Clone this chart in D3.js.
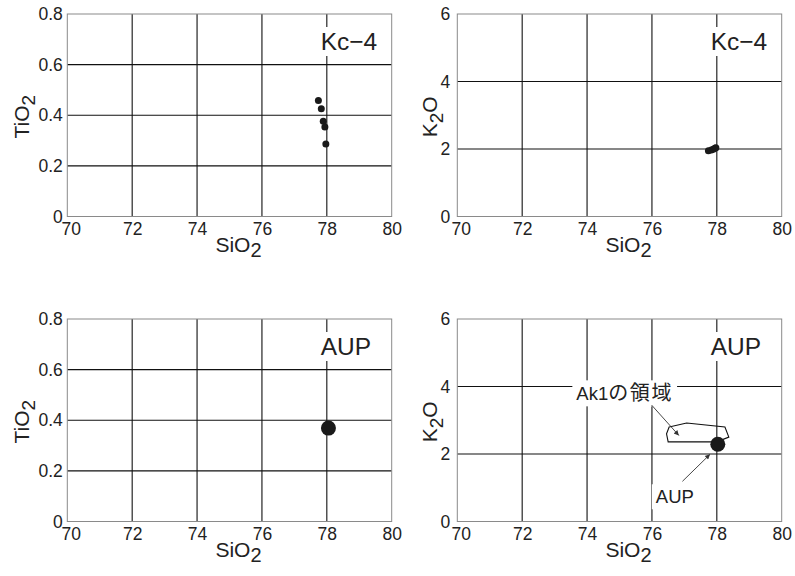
<!DOCTYPE html>
<html><head><meta charset="utf-8">
<script src="https://cdn.jsdelivr.net/npm/d3@7"></script>
<style>body{margin:0;background:#fff}text{font-family:"Liberation Sans",Arial,"Noto Sans CJK JP",sans-serif;fill:#222}</style>
</head><body><svg id="c" width="795" height="576"></svg>
<script>
// ---- data ----
const sio2Ticks = [70, 72, 74, 76, 78, 80];
const tio2Ticks = [0, 0.2, 0.4, 0.6, 0.8];
const k2oTicks = [0, 2, 4, 6];

const kc4SiO2 = [77.74, 77.83, 77.89, 77.94, 77.97];
const kc4TiO2 = [0.458, 0.426, 0.376, 0.354, 0.286];
const kc4K2O  = [1.95, 1.97, 1.99, 2.02, 2.04];

const aupSiO2_Ti = [78.05];
const aupTiO2    = [0.369];
const aupSiO2_K  = [78.03];
const aupK2O     = [2.29];

const ak1SiO2 = [76.53, 77.07, 78.25, 78.37, 78.00, 76.50, 76.45];
const ak1K2O  = [2.80, 2.92, 2.80, 2.50, 2.36, 2.36, 2.60];

const panelLabels = ["Kc\u22124", "Kc\u22124", "AUP", "AUP"];
const ak1Note = {latin: "Ak1", cjk: "の領域", tx: 73.67, ty: 3.59, x1: 75.99, y1: 3.45, x2: 76.83, y2: 2.55};
const aupNote = {latin: "AUP", cjk: "", tx: 76.12, ty: 0.54, x1: 76.94, y1: 1.19, x2: 77.79, y2: 1.99};

// ---- layout ----
const svg = d3.select("#c");
const PW = 324.4, PH = 202.5;
const lefts = [67.3, 457.3], tops = [14, 319];

svg.append("defs").append("marker")
  .attr("id", "ah").attr("viewBox", "0 0 10 10").attr("refX", 10).attr("refY", 5)
  .attr("markerWidth", 7).attr("markerHeight", 5).attr("markerUnits", "userSpaceOnUse")
  .attr("orient", "auto")
  .append("path").attr("d", "M0,0L10,5L0,10Z").attr("fill", "#333");

const panels = [
  {col:0,row:0,kind:"Ti",si:kc4SiO2,v:kc4TiO2,r:3.5},
  {col:1,row:0,kind:"K", si:kc4SiO2,v:kc4K2O,r:3.5},
  {col:0,row:1,kind:"Ti",si:aupSiO2_Ti,v:aupTiO2,r:7.5},
  {col:1,row:1,kind:"K", si:aupSiO2_K,v:aupK2O,r:7.5}
];

function textWithBg(g, xp, yp, size, latin, cjk, padX, padY) {
  const bgG = g.append("g");
  const t = g.append("text").attr("x", xp).attr("y", yp).attr("font-size", size);
  t.append("tspan").text(latin);
  if (cjk) t.append("tspan").attr("font-size", size + 1.5).attr("letter-spacing", 1.6).text(cjk);
  const b = t.node().getBBox();
  bgG.append("rect").attr("x", b.x - padX).attr("y", b.y - padY)
    .attr("width", b.width + 2 * padX).attr("height", b.height + 2 * padY).attr("fill", "#fff");
  return t;
}

panels.forEach((p, i) => {
  const L = lefts[p.col], T = tops[p.row];
  const g = svg.append("g").attr("transform", `translate(${L},${T})`);
  const x = d3.scaleLinear().domain([70, 80]).range([0, PW]);
  const yT = p.kind === "Ti" ? tio2Ticks : k2oTicks;
  const y = d3.scaleLinear().domain([yT[0], yT[yT.length-1]]).range([PH, 0]);

  // grid (interior)
  g.append("g").selectAll("line").data(sio2Ticks.slice(1, -1)).join("line")
    .attr("x1", d => x(d)).attr("x2", d => x(d)).attr("y1", 0).attr("y2", PH)
    .attr("stroke", "#111").attr("stroke-width", 1.1);
  g.append("g").selectAll("line").data(yT.slice(1, -1)).join("line")
    .attr("x1", 0).attr("x2", PW).attr("y1", d => y(d)).attr("y2", d => y(d))
    .attr("stroke", "#111").attr("stroke-width", 1.1);
  // frame
  g.append("rect").attr("x", 0).attr("y", 0).attr("width", PW).attr("height", PH)
    .attr("fill", "none").attr("stroke", "#8a8a8a").attr("stroke-width", 1);

  // axes labels
  const xa = g.append("g").attr("transform", `translate(0,${PH})`)
    .call(d3.axisBottom(x).tickValues(sio2Ticks).tickSize(0).tickPadding(6.5).tickFormat(d3.format("d")));
  xa.select(".domain").remove();
  xa.attr("font-family", null).attr("font-size", null);
  xa.selectAll("text").attr("font-size", 17.5).attr("fill", "#222");
  xa.selectAll("text").filter((d, j) => j === 0).attr("dx", 3.5);

  const fmt = p.kind === "Ti" ? (d => d === 0 ? "0" : d3.format(".1f")(d)) : d3.format("d");
  const ya = g.append("g")
    .call(d3.axisLeft(y).tickValues(yT).tickSize(0).tickPadding(p.col === 0 ? 4.5 : 7).tickFormat(fmt));
  ya.select(".domain").remove();
  ya.attr("font-family", null).attr("font-size", null);
  ya.selectAll("text").attr("font-size", 17.5).attr("fill", "#222");

  // x title
  const xt = g.append("text").attr("x", PW / 2 + 9).attr("y", PH + 35)
    .attr("text-anchor", "middle").attr("font-size", 21);
  xt.append("tspan").text("SiO");
  xt.append("tspan").attr("dy", 5).attr("font-size", 20).text("2");

  // y title
  const yx = p.col === 0 ? -38.3 : -20.8;
  const yt = g.append("text").attr("transform", `translate(${yx},${PH/2 + 1.5}) rotate(-90)`)
    .attr("text-anchor", "middle").attr("font-size", 21);
  if (p.kind === "Ti") {
    yt.append("tspan").text("TiO");
    yt.append("tspan").attr("dy", 6).attr("font-size", 19).text("2");
  } else {
    yt.append("tspan").text("K");
    yt.append("tspan").attr("dy", 6).attr("font-size", 19).text("2");
    yt.append("tspan").attr("dy", -6).text("O");
  }

  // panel label with white background
  textWithBg(g, 253.4, 36, 24.5, panelLabels[i], "", 4, 1);

  // Ak1 region and annotations
  if (i === 3) {
    const pts = ak1SiO2.map((s, k) => [x(s), y(ak1K2O[k])]);
    g.append("path").attr("d", d3.line()(pts) + "Z")
      .attr("fill", "none").attr("stroke", "#111").attr("stroke-width", 1.1);
    [ak1Note, aupNote].forEach(n => {
      textWithBg(g, x(n.tx), y(n.ty), 18.5, n.latin, n.cjk, 4, 2);
      g.append("line").attr("x1", x(n.x1)).attr("y1", y(n.y1)).attr("x2", x(n.x2)).attr("y2", y(n.y2))
        .attr("stroke", "#333").attr("stroke-width", 0.9).attr("marker-end", "url(#ah)");
    });
  }

  // points
  g.append("g").selectAll("circle").data(p.si.map((s, k) => [s, p.v[k]])).join("circle")
    .attr("cx", d => x(d[0])).attr("cy", d => y(d[1])).attr("r", p.r).attr("fill", "#1a1a1a");
});
</script></body></html>
